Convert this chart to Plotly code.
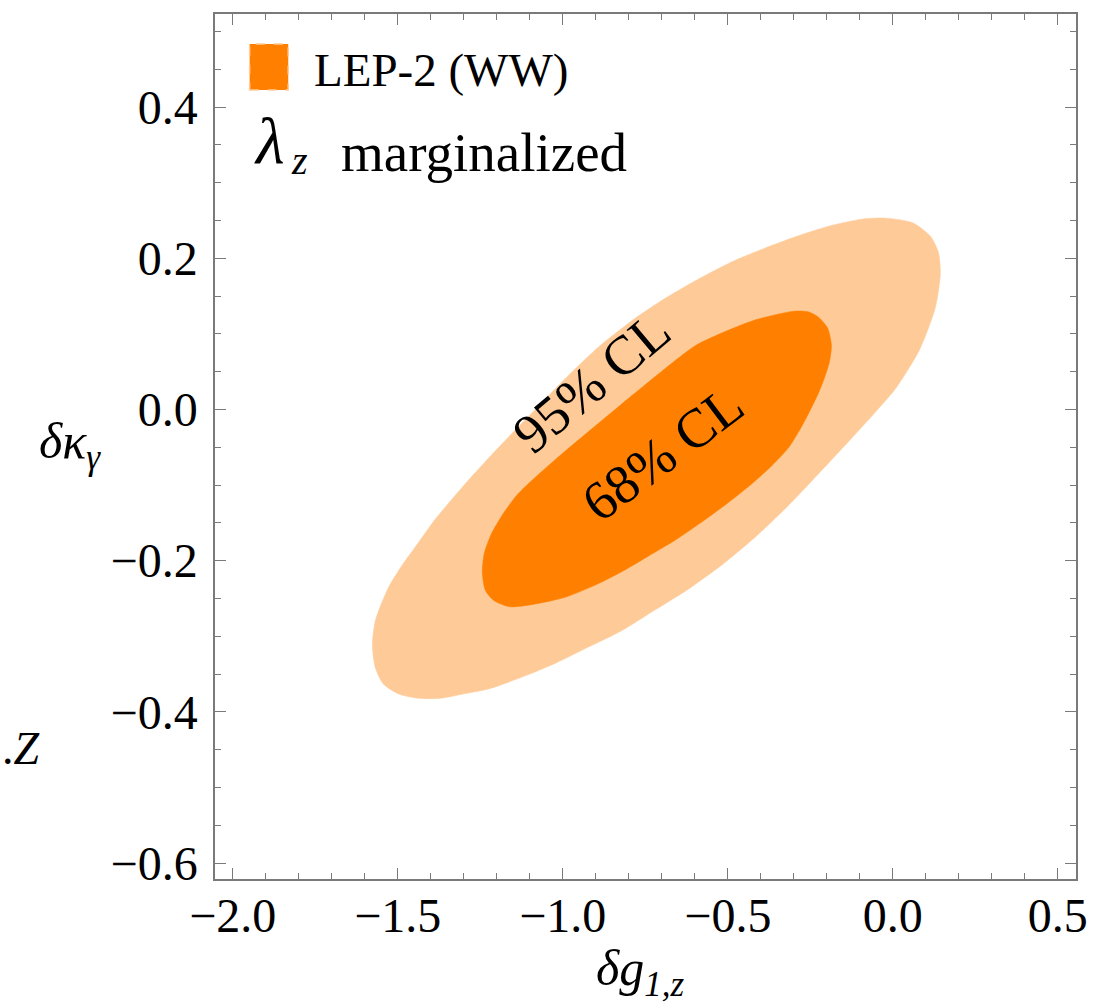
import plotly.graph_objects as go

# ---- data (contour boundaries, data units) ----
outer_x = [-1.577, -1.568, -1.529, -1.490, -1.439, -1.388, -1.289, -1.190, -1.088, -0.990,
           -0.891, -0.789, -0.690, -0.591, -0.489, -0.390, -0.291, -0.189, -0.090, -0.021,
           0.060, 0.114, 0.138, 0.144, 0.129, 0.081, 0.009, -0.060, -0.129, -0.225,
           -0.321, -0.420, -0.519, -0.621, -0.720, -0.819, -0.921, -1.019, -1.118, -1.220,
           -1.298, -1.370, -1.439, -1.499, -1.544, -1.568]
outer_y = [-0.312, -0.279, -0.236, -0.208, -0.177, -0.146, -0.095, -0.048, -0.002, 0.042,
           0.083, 0.118, 0.147, 0.172, 0.195, 0.213, 0.229, 0.243, 0.252, 0.253,
           0.247, 0.229, 0.208, 0.180, 0.135, 0.079, 0.028, -0.007, -0.040, -0.085,
           -0.129, -0.170, -0.206, -0.238, -0.265, -0.292, -0.314, -0.335, -0.353, -0.369,
           -0.376, -0.382, -0.382, -0.376, -0.363, -0.342]

inner_x = [-1.244, -1.238, -1.217, -1.184, -1.139, -1.079, -0.990, -0.891, -0.789, -0.699,
           -0.600, -0.519, -0.420, -0.300, -0.255, -0.225, -0.198, -0.186, -0.192, -0.207,
           -0.228, -0.255, -0.282, -0.315, -0.366, -0.429, -0.501, -0.579, -0.660, -0.741,
           -0.819, -0.900, -0.990, -1.079, -1.160, -1.208, -1.235]
inner_y = [-0.215, -0.190, -0.165, -0.140, -0.113, -0.088, -0.054, -0.018, 0.019, 0.051,
           0.084, 0.101, 0.118, 0.130, 0.129, 0.122, 0.108, 0.085, 0.063, 0.042,
           0.019, -0.005, -0.027, -0.050, -0.074, -0.099, -0.124, -0.149, -0.173, -0.194,
           -0.214, -0.232, -0.248, -0.257, -0.261, -0.253, -0.239]

x_ticks = [-2.0, -1.5, -1.0, -0.5, 0.0, 0.5]
y_ticks = [-0.6, -0.4, -0.2, 0.0, 0.2, 0.4]
x_range = [-2.054, 0.555]
y_range = [-0.621, 0.523]

legend_label = "LEP-2 (WW)"
label95 = "95% CL"
label68 = "68% CL"

# ---- layout geometry ----
W, H = 1100, 1005
ML, MR, MT, MB = 215, 15, 14, 126
PW, PH = W - ML - MR, H - MT - MB

def px(x):
    return (x - ML) / PW

def py(y):
    return (H - MB - y) / PH

SERIF = "Liberation Serif, Times New Roman, serif"
LIGHT = "#FECB98"
DARK = "#FF8000"
FRAME = "#7a7a7a"

fig = go.Figure()
fig.add_trace(go.Scatter(
    x=outer_x + [outer_x[0]], y=outer_y + [outer_y[0]], mode="lines", fill="toself",
    fillcolor=LIGHT, line=dict(color=LIGHT, width=0.5, shape="spline", smoothing=0.7),
    hoverinfo="skip", showlegend=False))
fig.add_trace(go.Scatter(
    x=inner_x + [inner_x[0]], y=inner_y + [inner_y[0]], mode="lines", fill="toself",
    fillcolor=DARK, line=dict(color=DARK, width=0.5, shape="spline", smoothing=0.7),
    hoverinfo="skip", showlegend=False))

axis_common = dict(
    showline=True, linecolor=FRAME, linewidth=1.5, mirror="allticks",
    ticks="inside", ticklen=11, tickwidth=1, tickcolor=FRAME,
    showgrid=False, zeroline=False, tickformat=".1f",
    tickfont=dict(family=SERIF, size=48, color="black"),
)
fig.update_xaxes(range=x_range, tickvals=x_ticks, ticklabelstandoff=-6,
                 minor=dict(dtick=0.1, tick0=0, ticks="inside", ticklen=6, tickcolor=FRAME, tickwidth=1),
                 **axis_common)
fig.update_yaxes(range=y_range, tickvals=y_ticks, ticklabelstandoff=6,
                 minor=dict(dtick=0.05, tick0=0, ticks="inside", ticklen=6, tickcolor=FRAME, tickwidth=1),
                 **axis_common)

def ann(x, y, text, size, xanchor="center", angle=0):
    return dict(x=px(x), y=py(y), xref="paper", yref="paper", showarrow=False,
                xanchor=xanchor, yanchor="middle", textangle=angle, text=text,
                font=dict(family=SERIF, size=size, color="black"))

annotations = [
    ann(645, 972, "<i>δg</i><sub><i>1,z</i></sub>", 50),            # x title
    ann(68, 445, "<i>δκ</i><sub><i>γ</i></sub>", 50),                # y title
    ann(40, 748, ".<i>Z</i>", 46, xanchor="right"),                  # clipped neighbour label
    ann(313, 70, legend_label, 47, xanchor="left"),
    ann(252, 140, "<i>λ</i>", 66, xanchor="left"),
    ann(290, 160, "<i>z</i>", 40, xanchor="left"),
    ann(340, 152, "marginalized", 55, xanchor="left"),
    ann(595, 382, label95, 55, angle=-40),
    ann(667, 453, label68, 55, angle=-37),
]

shapes = [
    dict(type="rect", xref="paper", yref="paper", x0=px(250), x1=px(289), y0=py(90), y1=py(44),
         fillcolor=DARK, line=dict(color=LIGHT, width=1.5, dash="dash")),
]

fig.update_layout(
    width=W, height=H, margin=dict(l=ML, r=MR, t=MT, b=MB),
    paper_bgcolor="white", plot_bgcolor="white",
    annotations=annotations, shapes=shapes, showlegend=False,
)

fig.write_html("out.html")
